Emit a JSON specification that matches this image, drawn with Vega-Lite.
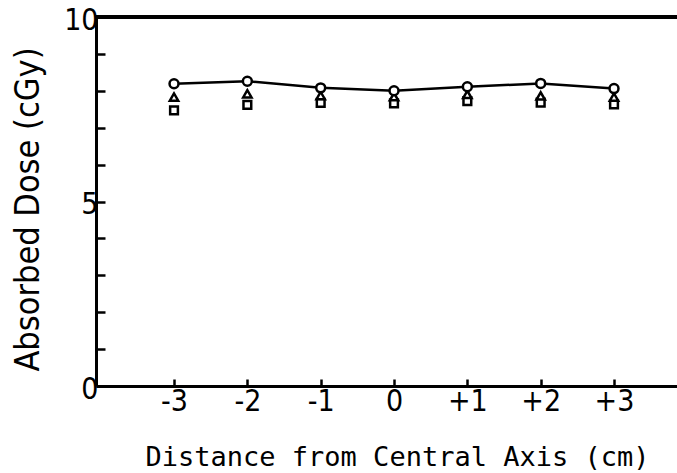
{
  "$schema": "https://vega.github.io/schema/vega-lite/v6.json",
  "autosize": "none",
  "width": 581,
  "height": 369,
  "padding": {"left": 96, "top": 17, "right": 0, "bottom": 87},
  "background": "white",
  "data": {
    "values": [
      {"pos": -3, "series": "square", "dose": 7.47},
      {"pos": -2, "series": "square", "dose": 7.62},
      {"pos": -1, "series": "square", "dose": 7.67},
      {"pos": 0, "series": "square", "dose": 7.66},
      {"pos": 1, "series": "square", "dose": 7.72},
      {"pos": 2, "series": "square", "dose": 7.68},
      {"pos": 3, "series": "square", "dose": 7.63},
      {"pos": -3, "series": "triangle", "dose": 7.83},
      {"pos": -2, "series": "triangle", "dose": 7.92},
      {"pos": -1, "series": "triangle", "dose": 7.87},
      {"pos": 0, "series": "triangle", "dose": 7.84},
      {"pos": 1, "series": "triangle", "dose": 7.9},
      {"pos": 2, "series": "triangle", "dose": 7.86},
      {"pos": 3, "series": "triangle", "dose": 7.83},
      {"pos": -3, "series": "circle", "dose": 8.19},
      {"pos": -2, "series": "circle", "dose": 8.26},
      {"pos": -1, "series": "circle", "dose": 8.08},
      {"pos": 0, "series": "circle", "dose": 8.0},
      {"pos": 1, "series": "circle", "dose": 8.11},
      {"pos": 2, "series": "circle", "dose": 8.2},
      {"pos": 3, "series": "circle", "dose": 8.06}
    ]
  },
  "encoding": {
    "x": {
      "field": "pos",
      "type": "quantitative",
      "scale": {"domain": [-4.064, 3.859], "nice": false, "zero": false},
      "axis": {
        "values": [-3, -2, -1, 0, 1, 2, 3],
        "labelExpr": "(datum.value > 0 ? '+' : (datum.value < 0 ? '-' : '')) + abs(datum.value)",
        "tickSize": -7,
        "labelPadding": 7,
        "title": "Distance from Central Axis (cm)",
        "titleFont": "DejaVu Sans Mono",
        "titleFontSize": 27,
        "titleBaseline": "alphabetic",
        "titleX": 301,
        "titleY": 79
      }
    },
    "y": {
      "field": "dose",
      "type": "quantitative",
      "scale": {"domain": [0, 10], "nice": false, "zero": true},
      "axis": {
        "values": [0, 1, 2, 3, 4, 5, 6, 7, 8, 9, 10],
        "labelExpr": "datum.value % 5 === 0 ? datum.label : ''",
        "tickSize": -9,
        "labelPadding": 7,
        "labelOffset": 3,
        "title": "Absorbed Dose (cGy)",
        "titleFont": "DejaVu Sans Condensed, Roboto, sans-serif",
        "titleFontSize": 34,
        "titleAngle": -90,
        "titleBaseline": "alphabetic",
        "titleAlign": "center",
        "titleX": -58,
        "titleY": 192
      }
    }
  },
  "layer": [
    {
      "mark": {"type": "rule", "color": "black", "strokeWidth": 3},
      "encoding": {"y": {"datum": 10}, "x": null}
    },
    {
      "transform": [{"filter": "datum.series === 'circle'"}],
      "mark": {"type": "line", "color": "black", "strokeWidth": 2.5}
    },
    {
      "mark": {"type": "point", "filled": true, "fill": "white", "stroke": "black", "strokeWidth": 2.5, "opacity": 1},
      "encoding": {
        "shape": {
          "field": "series",
          "type": "nominal",
          "scale": {"domain": ["square", "triangle", "circle"], "range": ["square", "triangle-up", "circle"]},
          "legend": null
        },
        "size": {
          "field": "series",
          "type": "nominal",
          "scale": {"domain": ["square", "triangle", "circle"], "range": [60, 80, 135]},
          "legend": null
        }
      }
    }
  ],
  "config": {
    "view": {"stroke": null},
    "axis": {
      "grid": false,
      "domainColor": "black",
      "domainWidth": 3,
      "tickColor": "black",
      "tickWidth": 2.5,
      "labelColor": "black",
      "labelFont": "DejaVu Sans Condensed, Roboto, sans-serif",
      "labelFontSize": 30,
      "titleColor": "black",
      "titleFontWeight": "normal"
    }
  }
}
